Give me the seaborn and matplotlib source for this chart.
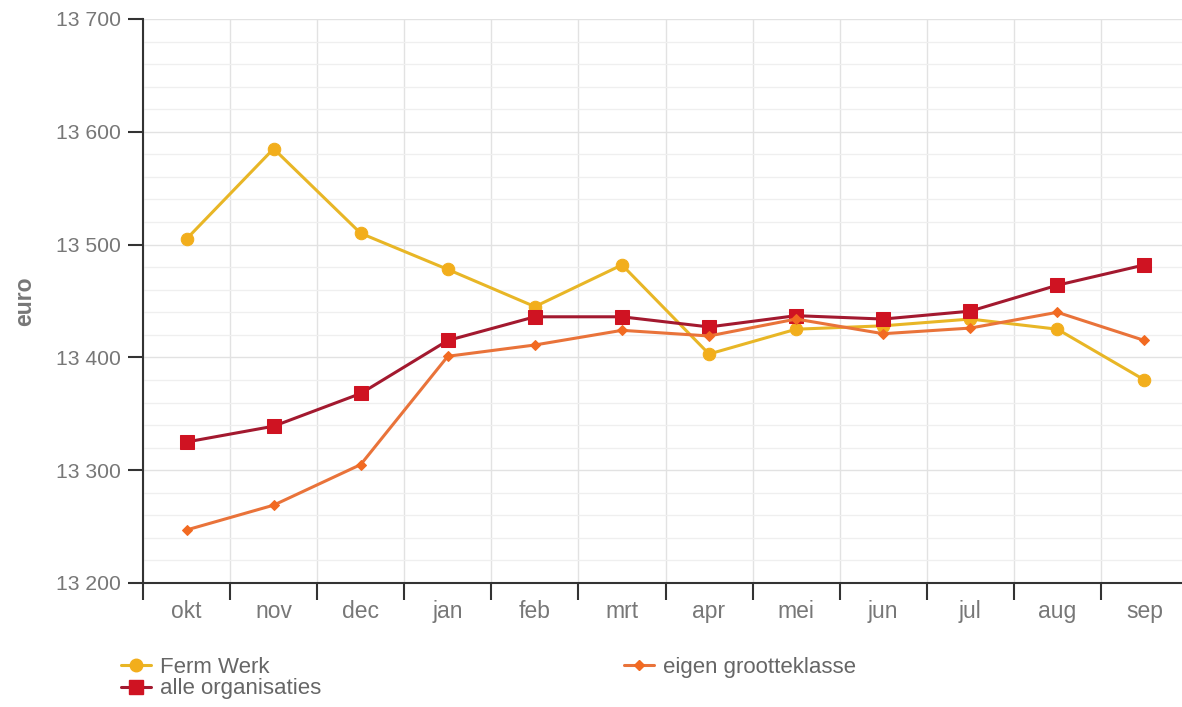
import numpy as np
import pandas as pd
import matplotlib
matplotlib.use("Agg")
import matplotlib.pyplot as plt
from matplotlib.ticker import FuncFormatter, MultipleLocator, FixedLocator
from matplotlib.lines import Line2D
import seaborn as sns

months = ["okt", "nov", "dec", "jan", "feb", "mrt", "apr", "mei", "jun", "jul", "aug", "sep"]
ferm_werk = [13505, 13585, 13510, 13478, 13445, 13482, 13403, 13425, 13428, 13434, 13425, 13380]
alle_organisaties = [13325, 13339, 13368, 13415, 13436, 13436, 13427, 13437, 13434, 13441, 13464, 13482]
eigen_grootteklasse = [13247, 13269, 13305, 13401, 13411, 13424, 13419, 13434, 13421, 13426, 13440, 13415]

series_names = ["Ferm Werk", "alle organisaties", "eigen grootteklasse"]
line_colors = ["#e8b626", "#a3192f", "#e9733a"]
marker_colors = ["#f2ae1c", "#cf1322", "#f26a21"]
markers = ["o", "s", "D"]
marker_sizes = [9, 9.5, 5.5]

sns.set_style("white")
plt.rcParams["font.family"] = ["Liberation Sans", "DejaVu Sans"]

df = pd.DataFrame({"maand": months, "Ferm Werk": ferm_werk,
                   "alle organisaties": alle_organisaties,
                   "eigen grootteklasse": eigen_grootteklasse})

fig = plt.figure(figsize=(11.82, 7.07), dpi=100)
ax = fig.add_axes([143 / 1182, 1 - 583 / 707, 1045 / 1182, (583 - 19) / 707])

# draw in order so that red sits on top of orange and yellow
for idx in [2, 0, 1]:
    name = series_names[idx]
    sns.lineplot(data=df, x="maand", y=name, ax=ax, color=line_colors[idx],
                 linewidth=2.2, marker=markers[idx], markersize=marker_sizes[idx],
                 markerfacecolor=marker_colors[idx], markeredgecolor=marker_colors[idx],
                 sort=False, zorder=3 + idx)

ax.set_xlim(-0.5, len(months) - 0.5)
ax.set_ylim(13200, 13700)

ax.yaxis.set_major_locator(MultipleLocator(100))
ax.yaxis.set_minor_locator(MultipleLocator(20))
ax.yaxis.set_major_formatter(FuncFormatter(lambda v, p: f"{int(v):,}".replace(",", " ")))
ax.xaxis.set_minor_locator(FixedLocator(np.arange(-0.5, len(months), 1.0)))

ax.grid(which="major", axis="y", color="#e2e2e2", linewidth=1.0)
ax.grid(which="minor", axis="y", color="#efefef", linewidth=0.9)
ax.grid(which="minor", axis="x", color="#e2e2e2", linewidth=1.0)
ax.set_axisbelow(True)

for side in ["top", "right"]:
    ax.spines[side].set_visible(False)
for side in ["left", "bottom"]:
    ax.spines[side].set_color("#333333")
    ax.spines[side].set_linewidth(1.5)

ax.tick_params(axis="y", which="major", length=11, width=1.5, color="#333333",
               labelsize=15.2, labelcolor="#777777", pad=5, left=True)
ax.tick_params(axis="y", which="minor", length=0)
ax.tick_params(axis="x", which="major", length=0, labelsize=16.5, labelcolor="#777777", pad=12)
ax.tick_params(axis="x", which="minor", length=12, width=1.5, color="#333333", bottom=True)

ax.set_xlabel("")
ax.set_ylabel("euro", fontsize=16.5, fontweight="bold", color="#777777", labelpad=14)

handles = [Line2D([], [], color=line_colors[i], linewidth=2.2, marker=markers[i],
                  markersize=marker_sizes[i], markerfacecolor=marker_colors[i],
                  markeredgecolor=marker_colors[i]) for i in range(3)]
fig.legend(handles, series_names, loc="upper left", bbox_to_anchor=(121 / 1182, 1 - 657 / 707),
           ncol=2, frameon=False, fontsize=16, labelcolor="#666666", handlelength=1.36,
           handletextpad=0.4, columnspacing=13.6, labelspacing=0.02, borderaxespad=0,
           borderpad=0)

fig.savefig("out.png", dpi=100)
